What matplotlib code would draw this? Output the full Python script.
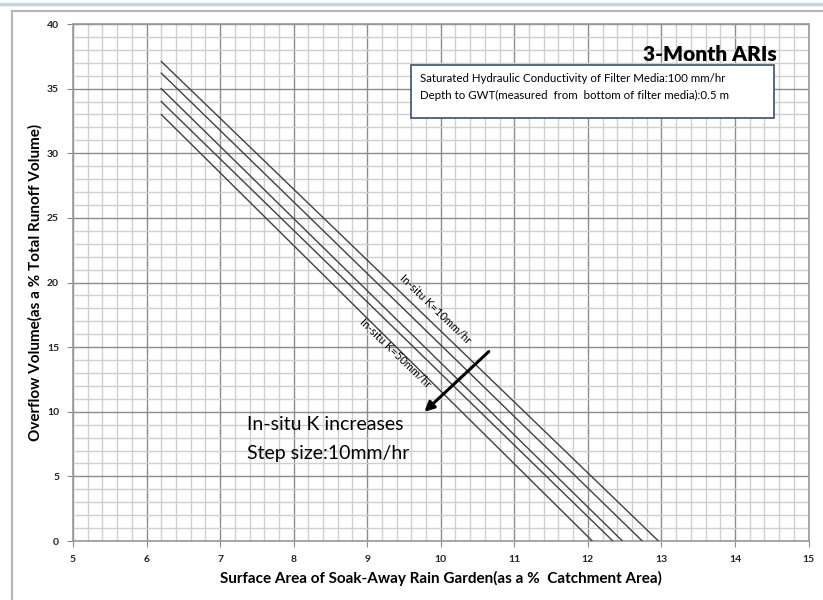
import matplotlib
matplotlib.use("Agg")
import matplotlib.pyplot as plt
from matplotlib.ticker import MultipleLocator
from matplotlib.patches import Rectangle
import numpy as np

plt.rcParams['font.family'] = ['Lato', 'DejaVu Sans']

# lines: K = 50, 40, 30, 20, 10 mm/hr (bottom to top)
start_x = [6.2, 6.2, 6.2, 6.2, 6.2]
start_y = [33.0, 34.0, 35.0, 36.2, 37.1]
end_x = [12.06, 12.34, 12.47, 12.74, 12.96]
end_y = [0, 0, 0, 0, 0]

xticks = [5, 6, 7, 8, 9, 10, 11, 12, 13, 14, 15]
yticks = [0, 5, 10, 15, 20, 25, 30, 35, 40]

fig = plt.figure(figsize=(8.23, 6.0), dpi=100)
ax = fig.add_axes([0.0887, 0.0983, 0.8937, 0.8617])

for sx, sy, ex, ey in zip(start_x, start_y, end_x, end_y):
    ax.plot([sx, ex], [sy, ey], color='#404040', lw=1.0, zorder=3)

ax.set_xlim(5, 15)
ax.set_ylim(0, 40)
ax.set_xticks(xticks, labels=[str(v) for v in xticks], fontweight='bold')
ax.set_yticks(yticks, labels=[str(v) for v in yticks], fontweight='bold')
ax.xaxis.set_minor_locator(MultipleLocator(0.2))
ax.yaxis.set_minor_locator(MultipleLocator(1))
ax.grid(which='minor', color='#cfcfcf', lw=1.0, zorder=0)
ax.grid(which='major', color='#8c8c8c', lw=1.0, zorder=1)
ax.tick_params(which='major', length=4, color='#8c8c8c', labelsize=7.5,
               labelcolor='#222222', pad=6)
ax.tick_params(which='minor', length=0)
for s in ax.spines.values():
    s.set_color('#9a9a9a')
    s.set_linewidth(1.2)

ax.set_xlabel('Surface Area of Soak-Away Rain Garden(as a %  Catchment Area)',
              fontsize=11, fontweight='bold', labelpad=5)
ax.set_ylabel('Overflow Volume(as a % Total Runoff Volume)',
              fontsize=11, fontweight='bold', labelpad=3)

ax.text(14.57, 37.15, '3-Month ARIs', fontsize=15, fontweight='heavy',
        ha='right', va='baseline', zorder=5)
ax.add_patch(Rectangle((9.6, 32.7), 4.93, 4.15, facecolor='white',
                       edgecolor='#3a5070', lw=1.2, zorder=5))
ax.text(9.72, 35.8, 'Saturated Hydraulic Conductivity of Filter Media:100 mm/hr',
        fontsize=8.3, va='center', zorder=6)
ax.text(9.72, 34.5, 'Depth to GWT(measured  from  bottom of filter media):0.5 m',
        fontsize=8.3, va='center', zorder=6)

ax.text(9.93, 17.9, 'In-situ K=10mm/hr', fontsize=8, rotation=-44,
        ha='center', va='center', zorder=4)
ax.text(9.38, 14.5, 'In-situ K=50mm/hr', fontsize=8, rotation=-44,
        ha='center', va='center', zorder=4)

ax.annotate('', xy=(9.75, 9.85), xytext=(10.68, 14.8),
            arrowprops=dict(arrowstyle='-|>', color='black', lw=2.2,
                            mutation_scale=14), zorder=6)
ax.text(7.37, 9.0, 'In-situ K increases', fontsize=14, va='center', zorder=4)
ax.text(7.37, 6.8, 'Step size:10mm/hr', fontsize=14, va='center', zorder=4)

# outer frame
fig.add_artist(plt.Line2D([0, 1], [1 - 4 / 600, 1 - 4 / 600],
                          color='#c5d5e8', lw=2.5))
fig.add_artist(plt.Line2D([12 / 823, 1], [1 - 11 / 600, 1 - 11 / 600],
                          color='#b5b5b5', lw=1.5))
fig.add_artist(plt.Line2D([12 / 823, 12 / 823], [0, 1 - 11 / 600],
                          color='#b5b5b5', lw=1.5))

fig.savefig('out.png', dpi=100)
